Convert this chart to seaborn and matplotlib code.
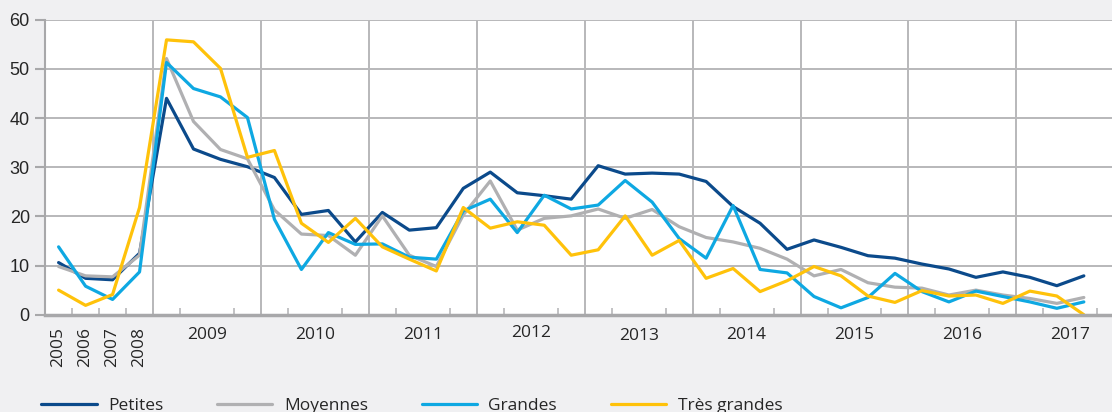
import numpy as np
import pandas as pd
import matplotlib
matplotlib.use("Agg")
import matplotlib.pyplot as plt
import matplotlib.transforms as mtransforms
import seaborn as sns

# ---- data ----
periods = (["2005", "2006", "2007", "2008"]
           + [f"{y}T{q}" for y in range(2009, 2017) for q in range(1, 5)]
           + ["2017T1", "2017T2", "2017T3"])
petites = [10.6, 7.4, 7.1, 12.5,
           44.0, 33.7, 31.6, 30.1,
           27.9, 20.4, 21.2, 14.8,
           20.8, 17.2, 17.7, 25.7,
           29.0, 24.8, 24.2, 23.5,
           30.3, 28.6, 28.8, 28.6,
           27.1, 22.0, 18.6, 13.3,
           15.2, 13.7, 12.0, 11.5,
           10.3, 9.3, 7.6, 8.7,
           7.6, 5.9, 7.9]
moyennes = [9.8, 7.9, 7.7, 12.1,
            52.1, 39.3, 33.6, 31.7,
            21.3, 16.4, 16.1, 12.1,
            20.1, 12.1, 9.8, 20.3,
            27.2, 17.2, 19.6, 20.1,
            21.5, 19.6, 21.4, 17.9,
            15.7, 14.8, 13.5, 11.3,
            7.9, 9.2, 6.5, 5.6,
            5.4, 4.0, 5.0, 4.0,
            3.3, 2.3, 3.5]
grandes = [13.8, 5.8, 3.1, 8.7,
           51.3, 46.0, 44.3, 40.1,
           19.4, 9.2, 16.7, 14.3,
           14.4, 11.7, 11.3, 21.1,
           23.5, 16.7, 24.3, 21.5,
           22.3, 27.3, 22.9, 15.5,
           11.5, 22.2, 9.2, 8.5,
           3.7, 1.4, 3.5, 8.4,
           4.7, 2.6, 4.8, 3.7,
           2.6, 1.3, 2.6]
tres_grandes = [5.0, 1.9, 4.1, 21.8,
                55.9, 55.5, 50.1, 32.0,
                33.4, 18.6, 14.7, 19.6,
                13.8, 11.3, 8.9, 21.8,
                17.6, 18.9, 18.2, 12.1,
                13.2, 20.1, 12.1, 15.1,
                7.4, 9.4, 4.7, 6.9,
                9.8, 7.9, 3.8, 2.5,
                4.9, 3.8, 4.0, 2.3,
                4.8, 3.8, 0.0]
series_names = ["Petites", "Moyennes", "Grandes", "Très grandes"]
colors = ["#0b4a8b", "#b0b0b2", "#0ea8e2", "#ffc20a"]
annual_labels = ["2005", "2006", "2007", "2008"]
year_labels = [str(y) for y in range(2009, 2018)]

# ---- build long frame ----
idx = np.arange(len(periods))
frames = []
for name, vals in zip(series_names, [petites, moyennes, grandes, tres_grandes]):
    frames.append(pd.DataFrame({"i": idx, "val": vals, "serie": name}))
df = pd.concat(frames, ignore_index=True)

sns.set_theme(style="white")
plt.rcParams["font.family"] = ["Open Sans", "DejaVu Sans"]

W, H = 1112, 412
fig = plt.figure(figsize=(W / 100, H / 100), dpi=100)
fig.patch.set_facecolor("#f0f0f2")

x0, x1 = 45.1, 45.1 + 40 * 26.98
y_top, y_bot = 19.7, 314.7
ax = fig.add_axes([x0 / W, 1 - y_bot / H, (x1 - x0) / W, (y_bot - y_top) / H])
ax.set_facecolor("white")

sns.lineplot(data=df, x="i", y="val", hue="serie", hue_order=series_names,
             palette=colors, linewidth=2.3, ax=ax, legend=True)

ax.set_xlim(-0.5, 39.5)
ax.set_ylim(0, 60)
ax.set_xlabel("")
ax.set_ylabel("")

# y axis
ax.set_yticks(np.arange(0, 61, 10))
ax.tick_params(axis="y", which="major", direction="out", length=7, width=1.5,
               color="#a8a8aa", labelsize=13, pad=4, left=True)
for lbl in ax.get_yticklabels():
    lbl.set_fontfamily(["Liberation Sans", "DejaVu Sans"])
ax.yaxis.grid(True, color="#b8b8ba", linewidth=1.4)

# x axis: boundaries as minor ticks, labels as major ticks
bounds = np.arange(-0.5, 40, 1)
ax.set_xticks(bounds, minor=True)
ax.tick_params(axis="x", which="minor", direction="in", length=5, width=1.2,
               color="#b8b8ba", bottom=True)
major_pos = list(range(4)) + [3.5 + 4 * k + 2 for k in range(len(year_labels))]
ax.set_xticks(major_pos)
ax.set_xticklabels(annual_labels + year_labels)
ax.tick_params(axis="x", which="major", length=0, labelsize=12.5, pad=9)
offsets = {"2012": 2, "2013": -1}
for k, lbl in enumerate(ax.get_xticklabels()):
    if k < 4:
        lbl.set_rotation(90)
        lbl.set_va("top")
        lbl.set_ha("center")
    dy = offsets.get(lbl.get_text(), 0)
    if dy:
        lbl.set_transform(lbl.get_transform()
                          + mtransforms.ScaledTranslation(0, dy / 100, fig.dpi_scale_trans))
for b in np.arange(3.5, 39.6, 4):
    ax.axvline(b, color="#b8b8ba", linewidth=1.4, zorder=0.5)

for side in ["top", "right"]:
    ax.spines[side].set_visible(False)
ax.spines["left"].set_color("#a8a8aa")
ax.spines["left"].set_linewidth(1.5)
ax.spines["bottom"].set_color("#a8a8aa")
ax.spines["bottom"].set_linewidth(2.5)

handles, labels = ax.get_legend_handles_labels()
ax.get_legend().remove()
leg = fig.legend(handles, labels, loc="center left",
                 bbox_to_anchor=(41 / W, 1 - 406 / H), ncol=4, frameon=False,
                 fontsize=12.5, handlelength=3.2, handletextpad=0.65,
                 columnspacing=3.1, borderpad=0, borderaxespad=0)
for line in leg.get_lines():
    line.set_linewidth(2.3)

fig.savefig("out.png", dpi=100, facecolor=fig.get_facecolor())
